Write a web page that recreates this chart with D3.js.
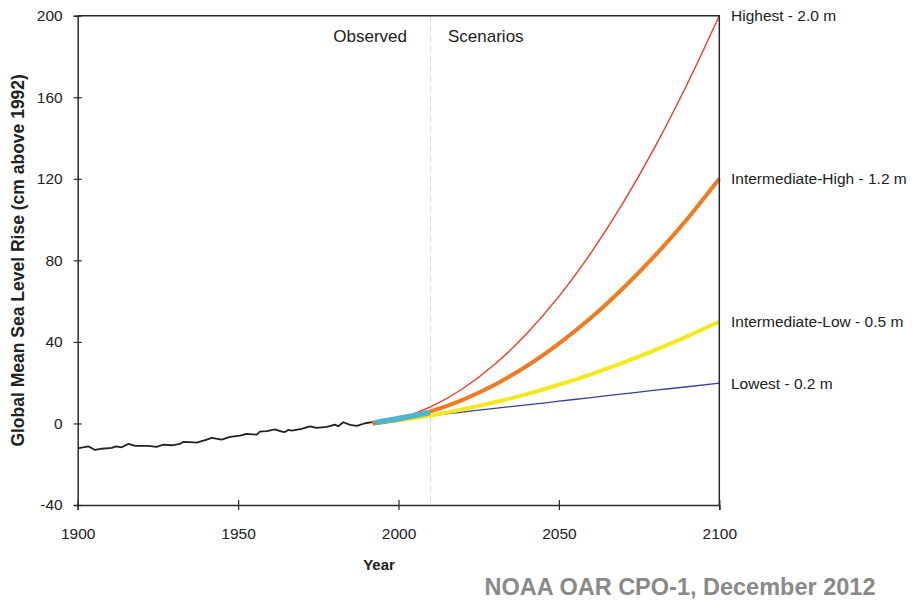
<!DOCTYPE html>
<html>
<head>
<meta charset="utf-8">
<script src="https://cdn.jsdelivr.net/npm/d3@7"></script>
<style>
  html, body { margin: 0; padding: 0; background: #fff; }
  svg { display: block; font-family: "Liberation Sans", Arial, sans-serif; }
</style>
</head>
<body>
<svg id="chart" width="912" height="602"></svg>
<script>
// ---------- DATA ----------
const xTicks = [1900, 1950, 2000, 2050, 2100];
const yTicks = [-40, 0, 40, 80, 120, 160, 200];

// Observed tide-gauge record (cm above 1992)
const obsYears = [1900, 1903.3, 1905.4, 1907.5, 1910.6, 1912, 1913.7, 1915.8, 1917.9, 1922, 1924.6, 1926.7, 1929.3, 1931.9, 1932.9,
  1935, 1937.1, 1940.2, 1941.8, 1944.9, 1947.5, 1950.6, 1952.7, 1955.8, 1956.8, 1958.9, 1961.5, 1963.6, 1964.6, 1965.6,
  1966.7, 1969.8, 1972.4, 1974.5, 1977.6, 1980.2, 1981.2, 1982.8, 1984.9, 1987, 1989.6, 1991.8];
const obsValues = [-12.2, -11.2, -13, -12.4, -12, -11.2, -11.7, -10, -11, -11, -11.5, -10.4, -10.7, -10, -9.1,
  -9.2, -9.4, -7.9, -7.1, -7.9, -6.6, -6, -5.1, -5.5, -4, -3.8, -2.9, -4, -4.2, -3.2,
  -3.5, -2.7, -1.4, -2.2, -1.7, -0.6, -1.4, 0.6, -0.7, -1.2, 0.1, 0.7];

// Satellite record
const satYears = [1992.7, 1996, 2000, 2004, 2007, 2009.8];
const satValues = [0.4, 1.3, 2.4, 3.6, 4.5, 5.4];

// Scenarios
const scenYears = [1992, 2000, 2010, 2020, 2030, 2040, 2050, 2060, 2070, 2080, 2090, 2100];
const highest = [0, 2.4, 8.1, 17.0, 29.0, 44.1, 62.3, 83.7, 108.2, 135.8, 166.5, 200];
const intermediateHigh = [0, 1.9, 5.9, 11.6, 19.0, 28.2, 39.2, 51.8, 66.3, 82.4, 100.3, 120];
const intermediateLow = [0, 1.5, 3.9, 6.9, 10.4, 14.4, 19.0, 24.1, 29.8, 36.0, 42.7, 50];
const lowest = [0.6, 2.0, 3.8, 5.6, 7.4, 9.1, 10.9, 12.7, 14.5, 16.3, 18.0, 19.8];

const scenarioNames = ["Highest - 2.0 m", "Intermediate-High - 1.2 m", "Intermediate-Low - 0.5 m", "Lowest - 0.2 m"];
const scenarioColors = ["#f23a2a", "#f47a1f", "#f6e81a", "#3b3f9e"];
const scenarioWidths = [1.4, 4, 4, 1.3];
const scenarioLabelY = [200, 120, 50, 19.8];
const dividerYear = 2010;

// ---------- CHART ----------
const svg = d3.select("#chart");
const x = d3.scaleLinear().domain([1900, 2100]).range([77.7, 719.3]);
const y = d3.scaleLinear().domain([-40, 200]).range([505, 15.7]);
const axisColor = "#2a2a2a";

// Divider
svg.append("line")
  .attr("x1", x(dividerYear)).attr("x2", x(dividerYear))
  .attr("y1", y(200)).attr("y2", y(-40))
  .attr("stroke", "#d6d6d6").attr("stroke-width", 1).attr("stroke-dasharray", "6,4");

// Scenario lines
const scenarios = [highest, intermediateHigh, intermediateLow, lowest];
const lineGen = d3.line().x(d => x(d[0])).y(d => y(d[1])).curve(d3.curveMonotoneX);
const drawOrder = [3, 2, 1, 0];
drawOrder.forEach(i => {
  svg.append("path")
    .datum(scenYears.map((yr, j) => [yr, scenarios[i][j]]))
    .attr("d", lineGen)
    .attr("fill", "none")
    .attr("stroke", scenarioColors[i])
    .attr("stroke-width", scenarioWidths[i]);
});

// Observed
svg.append("path")
  .datum(obsYears.map((yr, j) => [yr, obsValues[j]]))
  .attr("d", d3.line().x(d => x(d[0])).y(d => y(d[1])))
  .attr("fill", "none").attr("stroke", "#222").attr("stroke-width", 1.8)
  .attr("stroke-linejoin", "round");

// Small orange joint
svg.append("line")
  .attr("x1", x(obsYears[obsYears.length - 1])).attr("y1", y(obsValues[obsValues.length - 1]))
  .attr("x2", x(satYears[0])).attr("y2", y(satValues[0]))
  .attr("stroke", "#e8701a").attr("stroke-width", 3.5);

// Satellite
svg.append("path")
  .datum(satYears.map((yr, j) => [yr, satValues[j]]))
  .attr("d", d3.line().x(d => x(d[0])).y(d => y(d[1])).curve(d3.curveMonotoneX))
  .attr("fill", "none").attr("stroke", "#4cb6cf").attr("stroke-width", 5.5);

// Frame (top & right)
svg.append("path")
  .attr("d", `M${x(1900)},${y(200)}H${x(2100)}V${y(-40)}`)
  .attr("fill", "none").attr("stroke", axisColor).attr("stroke-width", 1.5);

// Y axis
const yAxis = svg.append("g").attr("transform", `translate(${x(1900)},0)`)
  .call(d3.axisLeft(y).tickValues(yTicks).tickFormat(d => String(d)).tickSize(4).tickPadding(10));
yAxis.select(".domain").attr("stroke", axisColor).attr("stroke-width", 1.5);
yAxis.selectAll(".tick line").attr("x1", -4).attr("x2", 4).attr("stroke", axisColor).attr("stroke-width", 1.2);
yAxis.selectAll(".tick text").attr("x", -15).attr("font-size", 15.5).attr("fill", "#222")
  .attr("font-family", "Liberation Sans, Arial, sans-serif");

// X axis
const xAxis = svg.append("g").attr("transform", `translate(0,${y(-40)})`)
  .call(d3.axisBottom(x).tickValues(xTicks).tickFormat(d => String(d)).tickSize(5));
xAxis.select(".domain").attr("stroke", axisColor).attr("stroke-width", 1.5);
xAxis.selectAll(".tick line").attr("y1", -5).attr("y2", 5).attr("stroke", axisColor).attr("stroke-width", 1.2);
xAxis.selectAll(".tick text").attr("y", 23).attr("font-size", 15.5).attr("fill", "#222")
  .attr("font-family", "Liberation Sans, Arial, sans-serif");

// Axis titles
svg.append("text")
  .attr("transform", `translate(24,${(y(200) + y(-40)) / 2}) rotate(-90)`)
  .attr("text-anchor", "middle")
  .attr("font-size", 17.5).attr("font-weight", "bold").attr("fill", "#222")
  .text("Global Mean Sea Level Rise (cm above 1992)");

svg.append("text")
  .attr("x", 379).attr("y", 570).attr("text-anchor", "middle")
  .attr("font-size", 15).attr("font-weight", "bold").attr("fill", "#222")
  .text("Year");

// Region labels
svg.append("text").attr("x", 407).attr("y", 42).attr("text-anchor", "end")
  .attr("font-size", 17).attr("fill", "#222").text("Observed");
svg.append("text").attr("x", 448).attr("y", 42).attr("text-anchor", "start")
  .attr("font-size", 17).attr("fill", "#222").text("Scenarios");

// Scenario labels
scenarioNames.forEach((name, i) => {
  svg.append("text")
    .attr("x", 731).attr("y", y(scenarioLabelY[i]) + 5.5)
    .attr("font-size", 15.5).attr("fill", "#222")
    .text(name);
});

// Credit
svg.append("text")
  .attr("x", 680).attr("y", 595).attr("text-anchor", "middle")
  .attr("font-size", 23.5).attr("font-weight", "bold").attr("fill", "#8a8a8a")
  .text("NOAA OAR CPO-1, December 2012");
</script>
</body>
</html>
